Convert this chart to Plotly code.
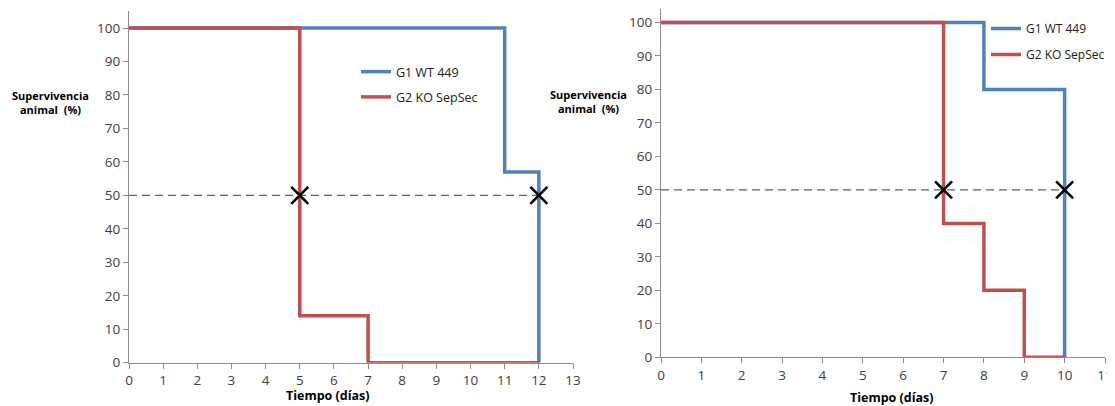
import plotly.graph_objects as go

# ---- data ----
left_g1_days = [0, 11, 12]
left_g1_surv = [100, 57, 0]
left_g2_days = [0, 5, 7, 12]
left_g2_surv = [100, 14, 0, 0]
left_median_days = [5, 12]
left_median_surv = [50, 50]
left_ref_days = [0, 12]
left_ref_surv = [50, 50]

right_g1_days = [0, 8, 10]
right_g1_surv = [100, 80, 0]
right_g2_days = [0, 7, 8, 9, 10]
right_g2_surv = [100, 40, 20, 0, 0]
right_median_days = [7, 10]
right_median_surv = [50, 50]
right_ref_days = [0, 10]
right_ref_surv = [50, 50]

series_names = ["G1 WT 449", "G2 KO SepSec"]
x_ticks_left = list(range(0, 14))
x_ticks_right = list(range(0, 12))
y_ticks = list(range(0, 101, 10))

BLUE = "#4F81BD"
RED = "#C0504D"
OFF = 8  # page body margin
W, H = 1115 - OFF, 406 - OFF
FONT = "Open Sans"
TICKCOL = "#404040"
AXCOL = "#8C8C8C"


def px(x):
    return (x - OFF) / W


def py(y):
    return 1 - (y - OFF) / H


fig = go.Figure()

# left panel
fig.add_trace(go.Scatter(x=left_ref_days, y=left_ref_surv, mode="lines",
                         line=dict(color="#606060", width=1.3, dash="8px,5px"),
                         showlegend=False, xaxis="x", yaxis="y", hoverinfo="skip"))
fig.add_trace(go.Scatter(x=left_g1_days, y=left_g1_surv, mode="lines", line_shape="hv",
                         line=dict(color=BLUE, width=3.5), name=series_names[0],
                         legend="legend", legendgroup="a", xaxis="x", yaxis="y"))
fig.add_trace(go.Scatter(x=left_g2_days, y=left_g2_surv, mode="lines", line_shape="hv",
                         line=dict(color=RED, width=3.5), name=series_names[1],
                         legend="legend", legendgroup="b", xaxis="x", yaxis="y"))
fig.add_trace(go.Scatter(x=left_median_days, y=left_median_surv, mode="markers",
                         marker=dict(symbol="x-thin", size=17, line=dict(color="black", width=2.6)),
                         showlegend=False, xaxis="x", yaxis="y"))

# right panel
fig.add_trace(go.Scatter(x=right_ref_days, y=right_ref_surv, mode="lines",
                         line=dict(color="#606060", width=1.3, dash="8px,5px"),
                         showlegend=False, xaxis="x2", yaxis="y2", hoverinfo="skip"))
fig.add_trace(go.Scatter(x=right_g1_days, y=right_g1_surv, mode="lines", line_shape="hv",
                         line=dict(color=BLUE, width=3.5), name=series_names[0],
                         legend="legend2", legendgroup="c", xaxis="x2", yaxis="y2"))
fig.add_trace(go.Scatter(x=right_g2_days, y=right_g2_surv, mode="lines", line_shape="hv",
                         line=dict(color=RED, width=3.5), name=series_names[1],
                         legend="legend2", legendgroup="d", xaxis="x2", yaxis="y2"))
fig.add_trace(go.Scatter(x=right_median_days, y=right_median_surv, mode="markers",
                         marker=dict(symbol="x-thin", size=17, line=dict(color="black", width=2.6)),
                         showlegend=False, xaxis="x2", yaxis="y2"))

axis_common = dict(showline=True, linecolor=AXCOL, linewidth=1.3, ticks="outside",
                   tickcolor=AXCOL, ticklen=5, tickwidth=1.3, showgrid=False, zeroline=False,
                   tickfont=dict(family=FONT, size=13.5, color=TICKCOL), fixedrange=True,
                   automargin=False)

fig.update_layout(
    width=W, height=H, margin=dict(l=0, r=0, t=0, b=0, autoexpand=False),
    paper_bgcolor="white", plot_bgcolor="white",
    xaxis=dict(domain=[px(129), px(573)], range=[0, 13], tickvals=x_ticks_left,
               anchor="y", **axis_common),
    yaxis=dict(domain=[py(362.7), py(11.3)], range=[0, 105], tickvals=y_ticks,
               anchor="x", **axis_common),
    xaxis2=dict(domain=[px(661), px(1105)], range=[0, 11], tickvals=x_ticks_right,
                anchor="y2", **axis_common),
    yaxis2=dict(domain=[py(357.3), py(9.1)], range=[0, 104], tickvals=y_ticks,
                anchor="x2", **axis_common),
    legend=dict(x=px(356), y=py(57), xanchor="left", yanchor="top",
                font=dict(family=FONT, size=12.5, color="#202020"),
                bgcolor="rgba(0,0,0,0)", traceorder="grouped", tracegroupgap=6),
    legend2=dict(x=px(986), y=py(14), xanchor="left", yanchor="top",
                 font=dict(family=FONT, size=12, color="#202020"),
                 bgcolor="rgba(0,0,0,0)", traceorder="grouped", tracegroupgap=7),
    showlegend=True,
)

ytitle_font = dict(family=FONT, size=11, color="black")
xtitle_font = dict(family=FONT, size=12.5, color="black")
common_ann = dict(xref="paper", yref="paper", showarrow=False,
                  xanchor="center", yanchor="middle", align="center")
fig.add_annotation(x=px(50), y=py(102), text="<b>Supervivencia<br>animal  (%)</b>",
                   font=ytitle_font, **common_ann)
fig.add_annotation(x=px(588), y=py(101), text="<b>Supervivencia<br>animal  (%)</b>",
                   font=ytitle_font, **common_ann)
fig.add_annotation(x=px(328), y=py(395), text="<b>Tiempo (días)</b>",
                   font=xtitle_font, **common_ann)
fig.add_annotation(x=px(892), y=py(397), text="<b>Tiempo (días)</b>",
                   font=xtitle_font, **common_ann)

fig.write_html("out.html")
